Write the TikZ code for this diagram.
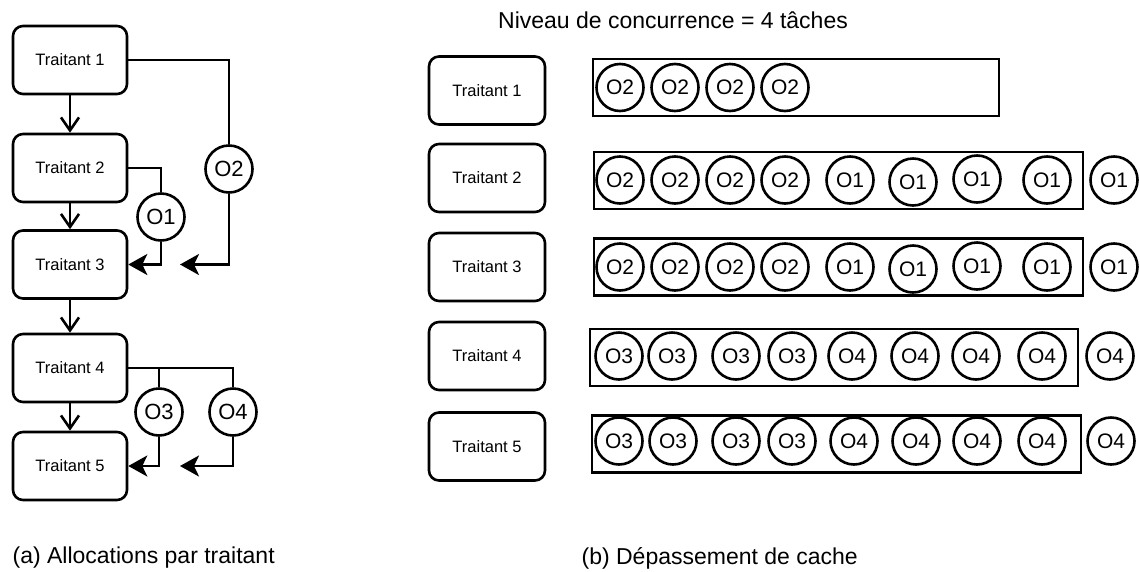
\documentclass[tikz,border=0pt]{standalone}
\usepackage{fontspec}
\setmainfont{Liberation Sans}
\usetikzlibrary{arrows.meta, positioning}

\begin{document}
\begin{tikzpicture}[
    x=1pt, y=-1pt, line width=2.6pt,
    every node/.style={font=\fontsize{16.5}{19}\selectfont, align=center},
    traitant/.style={rectangle, draw, rounded corners=10pt, minimum width=114pt, minimum height=68pt},
    op/.style={circle, draw, minimum size=47pt, inner sep=0pt, font=\fontsize{22}{26}\selectfont},
    slot/.style={op, font=\fontsize{21}{25}\selectfont},
    cache/.style={rectangle, draw, minimum height=57pt, inner sep=0pt},
    caption/.style={font=\fontsize{23}{27}\selectfont, anchor=west},
    arrow/.style={-{Straight Barb[length=13pt, width=18pt]}},
    feed/.style={-{Stealth[length=19pt, width=21pt, inset=5pt]}}
]
\useasboundingbox (0,0) rectangle (1140,571);

% (a) Allocations par traitant
\node (lt1) [traitant] at (70,60) {Traitant 1};
\node (lt2) [traitant] at (70,168) {Traitant 2};
\node (lt3) [traitant] at (70,264.5) {Traitant 3};
\node (lt4) [traitant] at (70,368) {Traitant 4};
\node (lt5) [traitant] at (70,466) {Traitant 5};

\node (lo2) [op] at (229,169) {O2};
\node (lo1) [op] at (161,217) {O1};
\node (lo3) [op] at (159,412) {O3};
\node (lo4) [op] at (233,412) {O4};
\coordinate (lend2) at (180,264.5);
\coordinate (lend4) at (180,466);

\draw [arrow] (lt1) -- (lt2);
\draw [arrow] (lt2) -- (lt3);
\draw [arrow] (lt3) -- (lt4);
\draw [arrow] (lt4) -- (lt5);

\draw (lt1.east) -| (lo2);
\draw [feed] (lo2) |- (lend2);
\draw (lt2.east) -| (lo1);
\draw [feed] (lo1) |- (lt3);
\draw (lt4.east) -| (lo3);
\draw (lt4.east) -| (lo4);
\draw [feed] (lo3) |- (lt5);
\draw [feed] (lo4) |- (lend4);

\node (capa) [caption] at (8,558) {(a) Allocations par traitant};

% (b) Depassement de cache
\node (title) [font=\fontsize{23}{27}\selectfont] at (673,20) {Niveau de concurrence = 4 tâches};

\node (rt1) [traitant, minimum width=116pt] at (487,90.5) {Traitant 1};
\node (rt2) [traitant, minimum width=116pt] at (487,178) {Traitant 2};
\node (rt3) [traitant, minimum width=116pt] at (487,267) {Traitant 3};
\node (rt4) [traitant, minimum width=116pt] at (487,356) {Traitant 4};
\node (rt5) [traitant, minimum width=116pt] at (487,446.5) {Traitant 5};

\node (bar1) [cache, minimum width=406pt] at (796,87.5) {};
\node (bar2) [cache, minimum width=489pt] at (838.5,180.5) {};
\node (bar3) [cache, minimum width=489pt] at (838.5,267) {};
\node (bar4) [cache, minimum width=488pt] at (834,357.5) {};
\node (bar5) [cache, minimum width=489pt] at (836.5,444) {};

% row 1
\node (s11) [slot] at (620,87.5) {O2}; \node (s12) [slot] at (675,87.5) {O2};
\node (s13) [slot] at (730,87.5) {O2}; \node (s14) [slot] at (785,87.5) {O2};
% row 2
\node (s21) [slot] at (620,180) {O2}; \node (s22) [slot] at (675,180) {O2};
\node (s23) [slot] at (730,180) {O2}; \node (s24) [slot] at (785,180) {O2};
\node (s25) [slot] at (850,180) {O1}; \node (s26) [slot] at (913,182) {O1};
\node (s27) [slot] at (977,179) {O1}; \node (s28) [slot] at (1047,180) {O1};
\node (s29) [slot] at (1114,180) {O1};
% row 3
\node (s31) [slot] at (620,267) {O2}; \node (s32) [slot] at (675,267) {O2};
\node (s33) [slot] at (730,267) {O2}; \node (s34) [slot] at (785,267) {O2};
\node (s35) [slot] at (850,267) {O1}; \node (s36) [slot] at (913,269) {O1};
\node (s37) [slot] at (977,266) {O1}; \node (s38) [slot] at (1047,267) {O1};
\node (s39) [slot] at (1114,267) {O1};
% row 4
\node (s41) [slot] at (619,356) {O3}; \node (s42) [slot] at (672,356) {O3};
\node (s43) [slot] at (736,356) {O3}; \node (s44) [slot] at (792,356) {O3};
\node (s45) [slot] at (852,356) {O4}; \node (s46) [slot] at (915,356) {O4};
\node (s47) [slot] at (976,356) {O4}; \node (s48) [slot] at (1042,356) {O4};
\node (s49) [slot] at (1110,356) {O4};
% row 5
\node (s51) [slot] at (619,441) {O3}; \node (s52) [slot] at (673,441) {O3};
\node (s53) [slot] at (736,441) {O3}; \node (s54) [slot] at (792,441) {O3};
\node (s55) [slot] at (854,441) {O4}; \node (s56) [slot] at (916,441) {O4};
\node (s57) [slot] at (977,441) {O4}; \node (s58) [slot] at (1042,441) {O4};
\node (s59) [slot] at (1111,441) {O4};

\node (capb) [caption] at (577,558) {(b) Dépassement de cache};

\end{tikzpicture}
\end{document}
